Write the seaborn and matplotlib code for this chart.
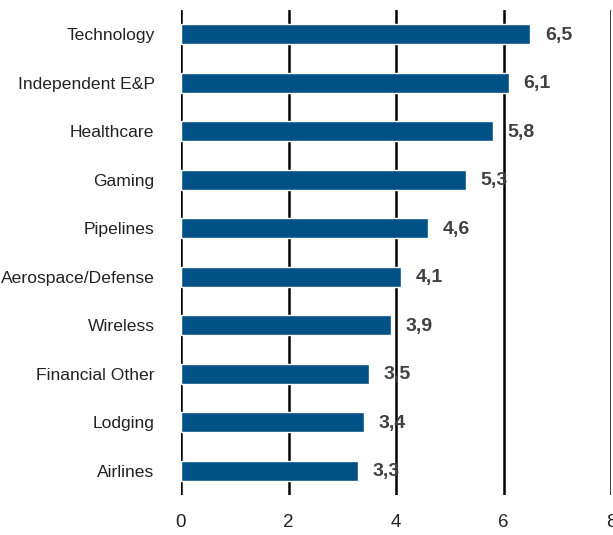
import matplotlib
matplotlib.use("Agg")
import matplotlib.pyplot as plt
from matplotlib import font_manager
import seaborn as sns
import pandas as pd

sectors = ["Technology", "Independent E&P", "Healthcare", "Gaming", "Pipelines",
           "Aerospace/Defense", "Wireless", "Financial Other", "Lodging", "Airlines"]
values = [6.5, 6.1, 5.8, 5.3, 4.6, 4.1, 3.9, 3.5, 3.4, 3.3]
xticks = [0, 2, 4, 6, 8]

df = pd.DataFrame({"sector": sectors, "value": values})

sns.set_style("white")
names = {f.name for f in font_manager.fontManager.ttflist}
narrow = "Liberation Sans Narrow" if "Liberation Sans Narrow" in names else "Liberation Sans"
plt.rcParams["font.family"] = ["Liberation Sans", "DejaVu Sans"]

fig = plt.figure(figsize=(6.13, 5.35), dpi=100)
ax = fig.add_axes([181 / 613, 40 / 535, 430 / 613, 485 / 535])

sns.barplot(data=df, x="value", y="sector", orient="h", color="#005185",
            saturation=1, width=0.41, ax=ax)

ax.set_xlim(0, 8)
ax.set_ylim(9.5, -0.5)
ax.set_xticks(xticks)
ax.set_xticklabels([str(t) for t in xticks], fontsize=13.5, color="#222222",
                   family=[narrow, "DejaVu Sans"])
ax.tick_params(axis="x", length=0, pad=14)
ax.tick_params(axis="y", length=0, pad=19)
for lbl in ax.get_yticklabels():
    lbl.set_fontsize(12.6)
    lbl.set_color("#222222")
    lbl.set_family([narrow, "DejaVu Sans"])
ax.set_xlabel("")
ax.set_ylabel("")

for s in ax.spines.values():
    s.set_visible(False)
for t in xticks:
    ax.axvline(t, color="black", lw=1.8, zorder=0)

for i, v in enumerate(values):
    ax.text(v + 0.27, i + 0.02, f"{v:.1f}".replace(".", ","), va="center", ha="left",
            fontsize=14, fontweight="bold", color="#404040",
            family=[narrow, "DejaVu Sans"], zorder=5)

fig.savefig("out.png", dpi=100)
